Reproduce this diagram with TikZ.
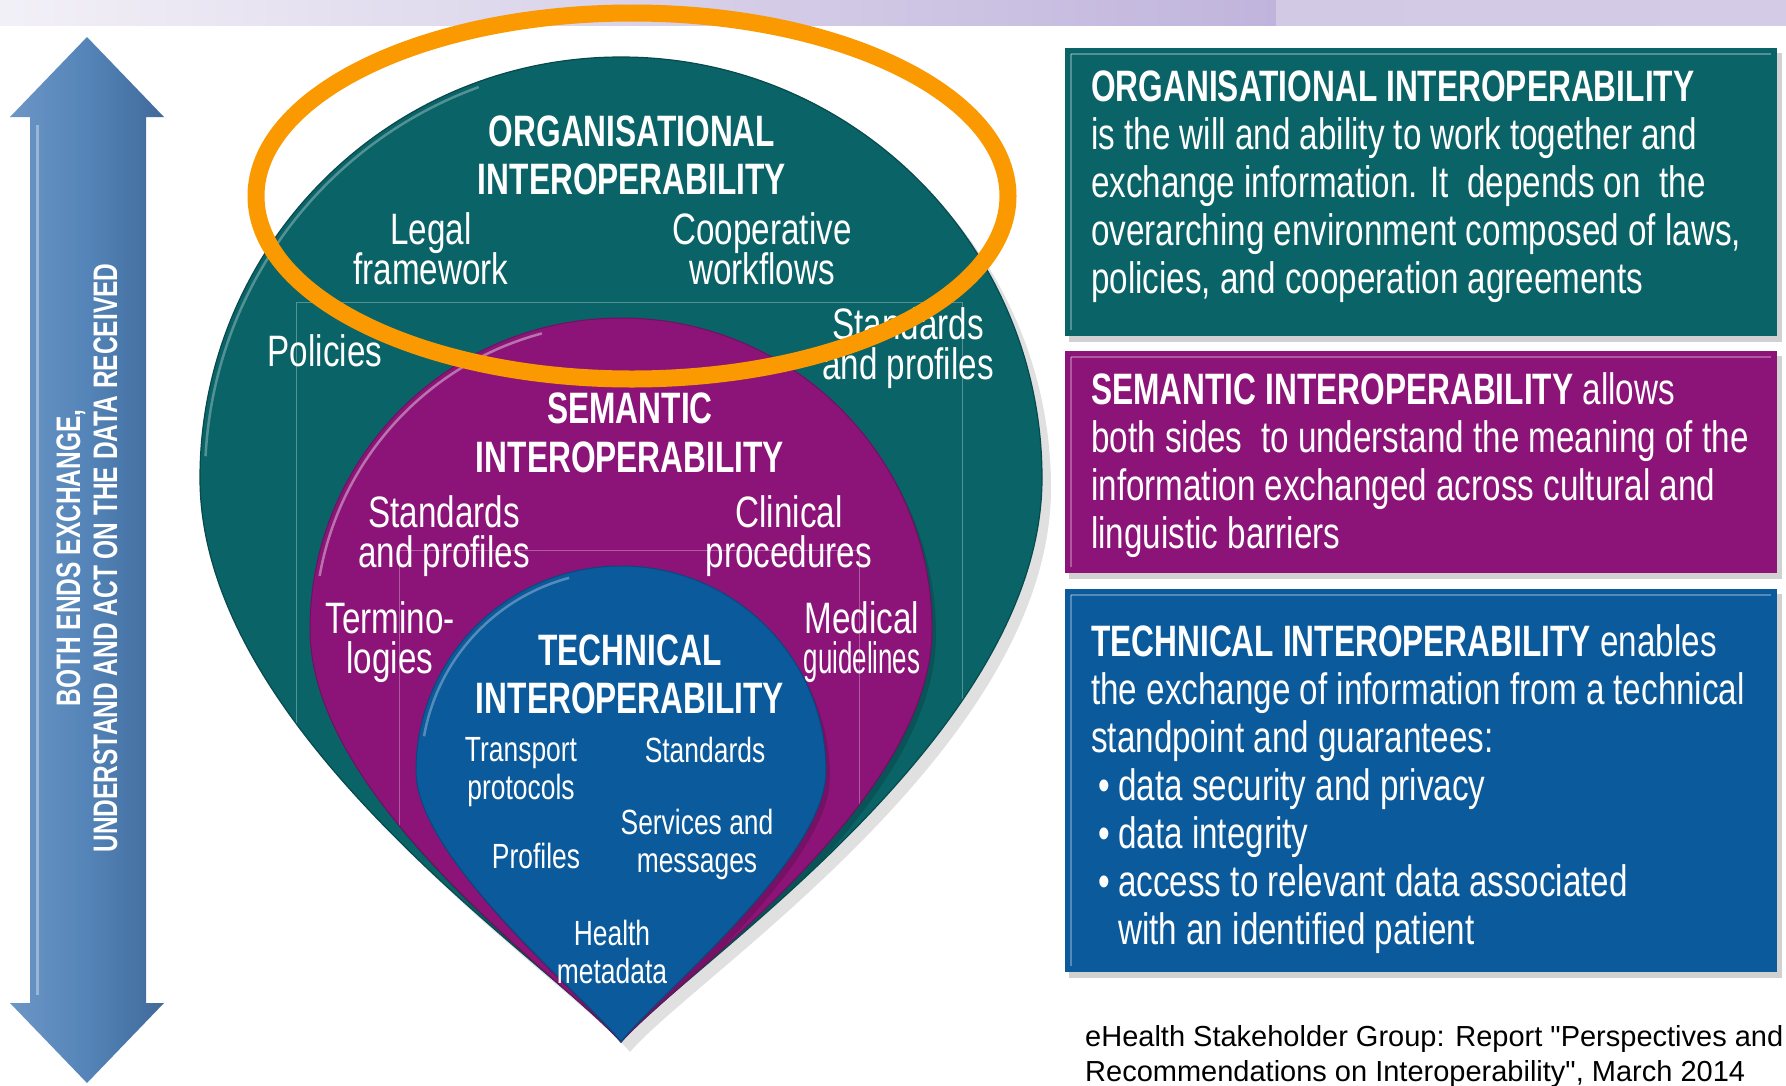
\documentclass[tikz,border=0pt]{standalone}
\usepackage{fontspec}
\setmainfont{Liberation Sans}
\newfontfamily\cond{Liberation Sans}[FakeStretch=0.755,BoldFeatures={FakeStretch=0.72}]
\newfontfamily\srcfont{Liberation Sans}[Ligatures=TeXOff]
\definecolor{tealc}{RGB}{10,99,103}
\definecolor{purplec}{RGB}{140,20,120}
\definecolor{bluec}{RGB}{11,90,156}
\definecolor{arrowc}{RGB}{84,132,184}
\definecolor{arrowl}{RGB}{108,150,198}
\definecolor{arrowd}{RGB}{64,106,154}
\definecolor{orangec}{RGB}{250,153,0}
\definecolor{bandl}{RGB}{242,240,247}
\definecolor{bandm}{RGB}{192,180,220}
\definecolor{bandr}{RGB}{212,204,230}
\newcommand\tealpath{(621,1042) .. controls (555,965) and (200,735) .. (200,478) arc[start angle=180,end angle=360,radius=421] .. controls (1042,735) and (687,965) .. (621,1042) -- cycle}
\newcommand\purplepath{(621,1042) .. controls (560,975) and (310,800) .. (310,629) arc[start angle=180,end angle=360,radius=311] .. controls (932,800) and (682,975) .. (621,1042) -- cycle}
\newcommand\bluepath{(621,1042) .. controls (590,1000) and (416,860) .. (416,771) arc[start angle=180,end angle=360,radius=205] .. controls (826,860) and (652,1000) .. (621,1042) -- cycle}
\tikzset{
  lbl/.style={text=white, inner sep=0, anchor=north, align=center,
    font=\cond\fontsize{44}{40}\selectfont},
  hdr/.style={text=white, inner sep=0, anchor=base, font=\cond\bfseries\fontsize{44}{48}\selectfont},
  sml/.style={text=white, inner sep=0, anchor=north, align=center,
    font=\cond\fontsize{35}{38}\selectfont},
  boxtxt/.style={text=white, inner sep=0, anchor=north west, align=left,
    font=\cond\fontsize{44}{48}\selectfont},
  gridline/.style={white, opacity=.3, line width=1},
  hilite/.style={white, opacity=.3, line width=2.5},
  boxshadow/.style={fill=black, opacity=.18},
  bevel/.style={white, opacity=.3, line width=2.5},
}
\begin{document}
\lineskiplimit=-100pt\relax
\begin{tikzpicture}[x=1pt,y=-1pt]
\useasboundingbox (0,0) rectangle (1786,1085);
\fill[white] (0,0) rectangle (1786,1085);
% top band
\shade[left color=bandl, right color=bandm] (0,0) rectangle (1276,25);
\shade[left color=bandr!90!bandm, right color=bandr] (1276,0) rectangle (1786,25);

% left double arrow
\shade[left color=arrowl, right color=arrowd, middle color=arrowc]
  (87,37) -- (164,117) -- (146,117) -- (146,1003) -- (164,1003) -- (87,1083)
  -- (10,1003) -- (30,1003) -- (30,117) -- (10,117) -- cycle;
\draw[white, opacity=.35, line width=3] (37,125) -- (37,995);
\node[rotate=90, text=white, align=center, inner sep=0,
  font=\cond\bfseries\fontsize{34}{37}\selectfont] (arrowtxt) at (87,558)
  {BOTH ENDS EXCHANGE,\\UNDERSTAND AND ACT ON THE DATA RECEIVED};

% drop shadow
\begin{scope}[shift={(9,10)}]
\fill[black, opacity=.12] \tealpath;
\end{scope}
% teal drop
\fill[tealc] \tealpath;
\begin{scope}
\clip \tealpath;
\draw[gridline] (296,1100) -- (296,302) -- (962,302) -- (962,1100);
\begin{scope}[shift={(4,6)}]
\fill[black, opacity=.15] \purplepath;
\end{scope}
\fill[purplec] \purplepath;
\begin{scope}
\clip \purplepath;
\draw[gridline] (399,1100) -- (399,550) -- (859,550) -- (859,1100);
\begin{scope}[shift={(4,6)}]
\fill[black, opacity=.15] \bluepath;
\end{scope}
\fill[bluec] \bluepath;
\end{scope}
\end{scope}
\draw[tealc!75!black, line width=1.2] \tealpath;
\draw[purplec!80!black, line width=1] \purplepath;
\draw[bluec!80!black, line width=1] \bluepath;
% highlights
\draw[hilite] (621,478) ++(183:416) arc[start angle=183,end angle=250,radius=416];
\draw[hilite, opacity=.4] (621,629) ++(190:306) arc[start angle=190,end angle=255,radius=306];
\draw[hilite] (621,771) ++(190:200) arc[start angle=190,end angle=255,radius=200];

% teal drop texts
\node[hdr] (org1) at (632,146) {ORGANISATIONAL};
\node[hdr] (org2) at (632,194) {INTEROPERABILITY};
\node[lbl] (legal) at (431,212) {Legal\\framework};
\node[lbl] (coop) at (762,212) {Cooperative\\workflows};
\node[lbl, anchor=base] (pol) at (325,366) {Policies};
\node[lbl] (ostd) at (908,307) {Standards\\and profiles};
% purple drop texts
\node[hdr] (sem1) at (630,423) {SEMANTIC};
\node[hdr] (sem2) at (630,472) {INTEROPERABILITY};
\node[lbl] (sstd) at (444,495) {Standards\\and profiles};
\node[lbl] (clin) at (789,495) {Clinical\\procedures};
\node[lbl] (term) at (390,601) {Termino-\\logies};
\node[lbl] (med) at (862,601) {Medical\\\scalebox{0.78}[1]{guidelines}};
% blue drop texts
\node[hdr] (tec1) at (630,665) {TECHNICAL};
\node[hdr] (tec2) at (630,713) {INTEROPERABILITY};
\node[sml] (tr) at (521,737) {Transport\\protocols};
\node[sml] (tstd) at (705,737) {Standards};
\node[sml] (serv) at (697,809) {Services and\\messages};
\node[sml] (prof) at (536,843) {Profiles};
\node[sml] (hm) at (612,920) {Health\\metadata};

% orange ellipse
\draw[orangec, line width=17] (632,196) ellipse[x radius=376, y radius=183];

% right boxes
\fill[boxshadow] (1069,53) rectangle (1782,342);
\fill[tealc] (1065,48) rectangle (1777,336);
\draw[bevel] (1071,54) -- (1771,54);
\draw[bevel] (1071,54) -- (1071,330);
\node[boxtxt] (orgtxt) at (1091,71) {\textbf{ORGANISATIONAL INTEROPERABILITY}\\
is the will and ability to work together and\\
exchange information. It\ \ depends on\ \ the\\
overarching environment composed of laws,\\
policies, and cooperation agreements};

\fill[boxshadow] (1069,356) rectangle (1782,579);
\fill[purplec] (1065,351) rectangle (1777,573);
\draw[bevel] (1071,357) -- (1771,357);
\draw[bevel] (1071,357) -- (1071,567);
\node[boxtxt] (semtxt) at (1091,372) {\textbf{SEMANTIC INTEROPERABILITY} allows\\
both sides\ \ to understand the meaning of the\\
information exchanged across cultural and\\
linguistic barriers};

\fill[boxshadow] (1069,594) rectangle (1782,978);
\fill[bluec] (1065,589) rectangle (1777,972);
\draw[bevel] (1071,595) -- (1771,595);
\draw[bevel] (1071,595) -- (1071,966);
\node[boxtxt] (tectxt) at (1091,624) {\textbf{TECHNICAL INTEROPERABILITY} enables\\
the exchange of information from a technical\\
standpoint and guarantees:\\
\makebox[27pt][l]{\hspace{7pt}•}data security and privacy\\
\makebox[27pt][l]{\hspace{7pt}•}data integrity\\
\makebox[27pt][l]{\hspace{7pt}•}access to relevant data associated\\
\hspace*{27pt}with an identified patient};

% source note
\node[anchor=north west, align=left, inner sep=0, text=black,
  font=\srcfont\fontsize{29}{35}\selectfont] (src) at (1085,1025)
  {eHealth Stakeholder Group: Report "Perspectives and\\
   Recommendations on Interoperability", March 2014};
\end{tikzpicture}
\end{document}
